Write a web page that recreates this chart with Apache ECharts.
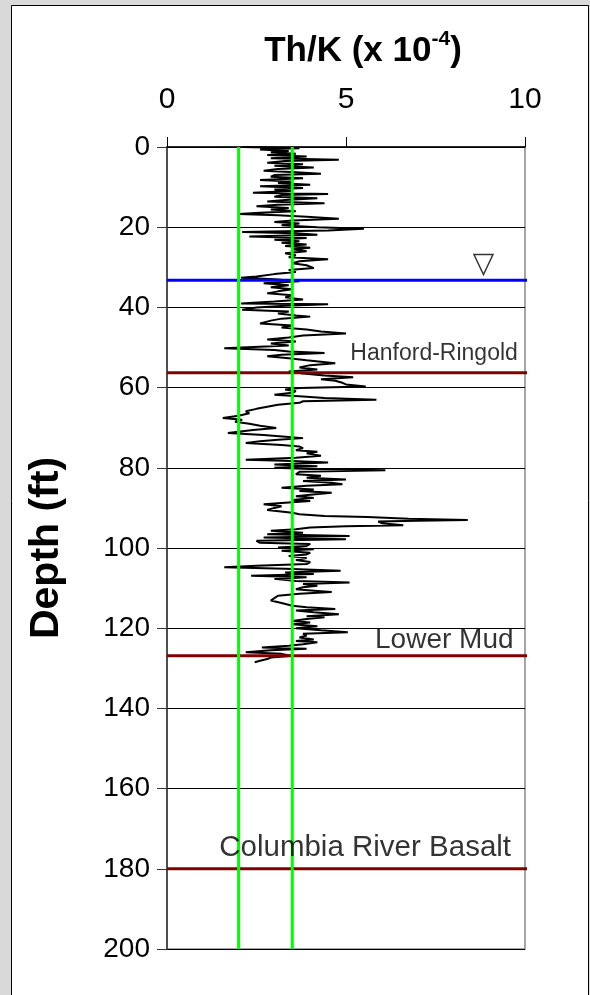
<!DOCTYPE html>
<html>
<head>
<meta charset="utf-8">
<script src="https://cdn.jsdelivr.net/npm/echarts@6/dist/echarts.min.js"></script>
<style>
html,body{margin:0;padding:0;background:#d9d9d9;}
#c{width:590px;height:995px;}
</style>
</head>
<body>
<div id="c"></div>
<script>
const depth = [0.0,0.3,0.6,1.0,1.3,1.7,2.0,2.4,2.8,3.2,3.5,3.9,4.3,4.7,5.1,5.5,5.9,6.3,6.7,7.0,7.4,7.8,8.2,8.6,9.0,9.4,9.8,10.2,10.6,11.0,11.4,11.7,12.0,12.4,12.8,13.2,13.6,14.0,14.4,14.8,15.2,15.6,16.0,16.4,16.7,17.0,17.4,17.9,18.3,18.7,19.1,19.5,20.0,20.4,20.8,21.2,21.5,21.9,22.3,22.7,23.1,23.5,23.9,24.3,24.7,25.1,25.5,26.0,26.5,27.0,27.5,28.0,28.5,29.0,29.5,30.2,30.7,31.2,31.7,32.3,32.6,33.0,33.5,34.0,34.5,35.0,35.5,36.0,36.5,37.0,37.5,38.0,38.5,39.0,39.2,39.6,40.0,40.6,41.0,41.5,42.0,42.3,42.8,43.3,44.0,44.5,45.0,45.5,46.0,46.5,47.0,47.5,48.0,48.5,49.0,49.5,50.2,50.6,51.0,51.4,51.8,52.2,52.7,53.2,53.9,54.4,55.0,55.5,56.0,56.5,57.0,57.4,57.9,58.3,58.8,59.2,59.7,60.1,60.5,60.9,61.3,61.8,62.2,62.6,63.0,63.4,63.8,64.3,64.8,65.3,65.9,66.4,67.0,67.6,68.0,68.5,69.0,69.5,70.1,70.6,71.0,71.3,71.8,72.3,72.6,73.0,73.4,73.8,74.3,74.7,75.1,75.6,76.0,76.4,77.0,77.5,78.0,78.3,78.7,79.2,79.6,80.0,80.3,80.6,81.0,81.6,82.0,82.5,82.9,83.3,83.7,84.1,84.5,85.0,85.4,85.8,86.2,86.7,87.1,87.5,88.0,88.3,88.7,89.1,89.6,90.0,90.5,90.8,91.2,91.6,92.0,92.3,92.7,93.0,93.2,93.4,93.8,94.3,94.6,94.9,95.3,95.7,96.2,96.6,97.0,97.4,97.8,98.2,98.7,99.0,99.5,99.9,100.3,100.7,101.2,101.6,102.0,102.5,103.0,103.5,104.0,104.4,104.8,105.2,105.7,106.1,106.5,106.9,107.3,107.7,108.2,108.6,109.0,109.4,109.8,110.3,110.7,111.0,111.4,111.9,112.5,113.1,113.7,114.4,114.8,115.2,115.6,116.0,116.5,117.0,117.3,117.7,118.2,118.6,119.0,119.5,120.0,120.5,121.0,121.4,121.8,122.3,122.8,123.2,123.5,124.0,124.4,124.8,125.1,125.5,126.0,126.4,126.9,127.3,127.7,128.1,128.5];
const thk = [2.1,3.7,2.6,3.4,2.9,3.6,2.8,3.9,2.9,4.8,3.3,2.8,3.8,3.0,4.1,3.1,2.7,3.6,4.3,3.0,2.9,3.8,2.6,3.5,3.1,4.0,2.6,3.8,3.0,3.5,2.4,4.5,3.2,3.0,4.2,3.3,2.8,4.4,3.1,2.5,3.4,2.9,3.6,2.6,2.0,3.1,3.9,4.8,3.5,3.0,3.7,3.2,4.2,5.5,4.5,2.1,3.6,4.2,2.3,3.9,3.0,3.7,3.2,3.9,3.3,4.0,3.5,3.9,3.3,3.6,3.4,4.5,3.7,3.5,3.9,4.1,3.4,3.6,3.0,2.5,2.07,3.0,3.7,2.7,3.4,2.9,3.5,3.1,2.8,3.5,3.3,3.8,3.0,2.07,4.5,3.3,2.5,2.1,3.4,3.1,3.6,4.0,3.2,2.9,2.6,3.5,3.2,3.9,4.3,5.0,3.8,3.4,2.8,3.6,2.9,3.4,1.6,3.0,3.4,4.4,3.2,2.8,3.4,3.9,4.7,4.0,3.7,4.2,3.4,3.8,4.4,5.2,4.3,4.7,4.9,5.0,5.55,3.7,3.3,3.6,3.5,3.0,3.8,4.4,5.85,3.8,3.7,3.1,2.8,2.5,2.2,2.3,2.0,1.56,2.1,1.9,2.3,2.6,3.05,2.4,2.0,1.7,2.7,3.4,3.8,3.1,2.6,2.2,3.2,3.7,3.8,3.6,4.2,3.9,4.3,3.6,2.2,3.5,4.5,3.0,4.2,3.0,4.0,6.1,3.7,3.6,4.3,3.9,5.0,3.8,4.6,4.9,3.9,3.2,4.1,3.7,4.6,4.0,3.6,4.1,3.5,4.0,3.3,2.7,3.2,3.0,2.8,2.8,3.5,3.7,4.4,5.6,6.75,8.4,7.0,5.9,6.0,6.6,5.0,4.0,3.6,2.9,3.8,2.8,5.1,2.7,5.0,2.5,2.6,4.0,3.9,3.1,4.1,3.2,4.0,3.9,3.4,3.9,3.6,4.0,3.9,2.5,1.6,3.3,4.85,3.3,4.1,2.35,3.9,3.0,3.6,5.1,3.8,4.2,3.8,3.6,4.2,4.6,3.7,3.1,3.0,2.9,3.2,3.5,3.9,4.7,3.6,4.1,4.8,3.9,4.4,3.9,3.5,4.0,3.5,4.2,3.6,4.3,5.05,3.8,3.9,3.7,4.1,3.6,4.2,3.8,3.4,2.65,3.9,2.9,2.2,3.2,3.5,2.9,2.8,2.6,2.45];
const xTicks = [0, 5, 10];
const greenValues = [2.0, 3.5];
const waterTable = 33.2;
const boundaries = [56.3, 126.9, 180.0];
const boundaryNames = ['Hanford-Ringold', 'Lower Mud', 'Columbia River Basalt'];
const labelDepths = [51.6, 123.1, 174.8];
const labelX = [9.8, 9.68, 9.61];
const labelSizes = [23, 28, 29.5];

const FF = '"Liberation Sans", Arial, sans-serif';
const trace = depth.map((d, i) => [thk[i], d]);

const series = [];
series.push({type:'line', data: trace, symbol:'none', lineStyle:{color:'#000', width:2}, z:3, animation:false});
greenValues.forEach(v => series.push({type:'line', data:[[v,0],[v,200]], symbol:'none', lineStyle:{color:'#00ff00', width:3}, z:5, animation:false}));
series.push({type:'line', data:[[0,waterTable],[10.2,waterTable]], symbol:'none', clip:false, lineStyle:{color:'#0000ff', width:3}, z:4, animation:false});
boundaries.forEach(b => series.push({type:'line', data:[[0,b],[10.2,b]], symbol:'none', clip:false, lineStyle:{color:'#800000', width:3}, z:4, animation:false}));
boundaryNames.forEach((n, i) => series.push({
  type:'scatter', data:[[labelX[i], labelDepths[i]]], symbolSize:0, z:6, animation:false, silent:true,
  label:{show:true, formatter:n, position:'left', distance:0, color:'#000', fontSize:labelSizes[i], fontFamily:FF}
}));
series.push({type:'scatter', data:[[8.84, 29.3]], symbol:'path://M0,0 L10,0 L5,10 Z', symbolSize:[19,20], z:6, animation:false, silent:true,
  itemStyle:{color:'#fff', borderColor:'#000', borderWidth:1.5}});

const chart = echarts.init(document.getElementById('c'), null, {renderer:'canvas'});
chart.setOption({
  backgroundColor:'#d9d9d9',
  animation:false,
  graphic:[{type:'rect', shape:{x:11.5, y:5.5, width:577, height:1000}, style:{fill:'#fff', stroke:'#000', lineWidth:1}, z:-10}],
  title:{
    text:'{a|Th/K (x 10}{b|-4}{a|)}',
    left:358, top:24, textAlign:'center',
    textStyle:{rich:{
      a:{fontSize:35, fontWeight:'bold', fontFamily:FF, color:'#000', lineHeight:44},
      b:{fontSize:21, fontWeight:'bold', fontFamily:FF, color:'#000', verticalAlign:'top', lineHeight:26}
    }}
  },
  grid:{left:167, top:147, right:65, bottom:46, show:true, borderColor:'#888', borderWidth:1.5, backgroundColor:'#fff'},
  xAxis:{
    type:'value', position:'top', min:0, max:10, interval:5,
    axisLine:{show:true, lineStyle:{color:'#000', width:1.5}},
    axisTick:{show:true, length:10, lineStyle:{color:'#000'}},
    axisLabel:{fontSize:30, color:'#000', fontFamily:FF, margin:32, formatter: v => xTicks.includes(v) ? String(v) : ''},
    splitLine:{show:false}
  },
  yAxis:{
    type:'value', inverse:true, min:0, max:200, interval:20,
    name:'Depth (ft)', nameLocation:'middle', nameGap:100,
    nameTextStyle:{fontSize:41, fontWeight:'bold', fontFamily:FF, color:'#000'},
    axisLine:{show:true, lineStyle:{color:'#333', width:1.5}},
    axisTick:{show:true, length:10, lineStyle:{color:'#333'}},
    axisLabel:{fontSize:28, color:'#000', fontFamily:FF, margin:17},
    splitLine:{show:true, lineStyle:{color:'#000', width:1}}
  },
  series: series
});
</script>
</body>
</html>
